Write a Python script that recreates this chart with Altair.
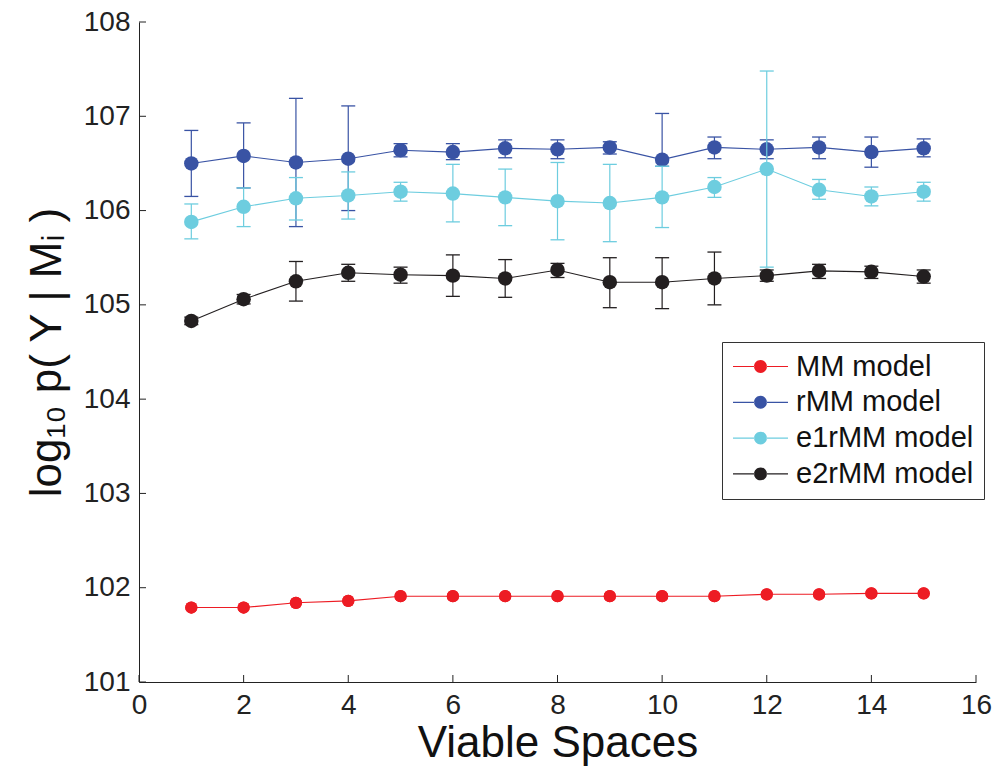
import altair as alt
import pandas as pd

# ---------------- data ----------------
x_vals = list(range(1, 16))
models = ["MM model", "rMM model", "e1rMM model", "e2rMM model"]
colors = ["#ed1c24", "#3953a4", "#6dcddf", "#231f20"]

mm_y = [101.79, 101.79, 101.84, 101.86, 101.91, 101.91, 101.91, 101.91,
        101.91, 101.91, 101.91, 101.93, 101.93, 101.94, 101.94]

rmm_y = [106.50, 106.58, 106.51, 106.55, 106.64, 106.62, 106.66, 106.65,
         106.67, 106.54, 106.67, 106.65, 106.67, 106.62, 106.66]
rmm_lo = [106.15, 106.24, 105.83, 106.00, 106.57, 106.54, 106.56, 106.55,
          106.60, 106.47, 106.55, 106.55, 106.55, 106.46, 106.57]
rmm_hi = [106.85, 106.93, 107.19, 107.11, 106.71, 106.71, 106.75, 106.75,
          106.73, 107.03, 106.78, 106.75, 106.78, 106.78, 106.76]

e1_y = [105.88, 106.04, 106.13, 106.16, 106.20, 106.18, 106.14, 106.10,
        106.08, 106.14, 106.25, 106.44, 106.22, 106.15, 106.20]
e1_lo = [105.70, 105.83, 105.90, 105.91, 106.10, 105.88, 105.84, 105.69,
         105.67, 105.82, 106.14, 105.40, 106.12, 106.05, 106.10]
e1_hi = [106.07, 106.24, 106.35, 106.41, 106.30, 106.49, 106.44, 106.51,
         106.49, 106.47, 106.35, 107.48, 106.33, 106.25, 106.30]

e2_y = [104.83, 105.06, 105.25, 105.34, 105.32, 105.31, 105.28, 105.37,
        105.24, 105.24, 105.28, 105.31, 105.36, 105.35, 105.30]
e2_lo = [104.79, 105.01, 105.04, 105.25, 105.23, 105.09, 105.08, 105.29,
         104.97, 104.96, 105.00, 105.25, 105.28, 105.28, 105.23]
e2_hi = [104.87, 105.11, 105.46, 105.43, 105.40, 105.53, 105.48, 105.44,
         105.50, 105.50, 105.56, 105.37, 105.43, 105.41, 105.37]

x_ticks = [0, 2, 4, 6, 8, 10, 12, 14, 16]
y_ticks = [101, 102, 103, 104, 105, 106, 107, 108]

# ---------------- build tables ----------------
series = {
    "MM model": (mm_y, None, None),
    "rMM model": (rmm_y, rmm_lo, rmm_hi),
    "e1rMM model": (e1_y, e1_lo, e1_hi),
    "e2rMM model": (e2_y, e2_lo, e2_hi),
}
rows = []
for m, (yv, lo, hi) in series.items():
    for i, x in enumerate(x_vals):
        rows.append({"x": x, "model": m, "y": yv[i],
                     "lo": lo[i] if lo else None, "hi": hi[i] if hi else None})
df = pd.DataFrame(rows)
xt = pd.DataFrame({"x": x_ticks})
yt = pd.DataFrame({"y": y_ticks})

FONT = "Liberation Sans"
W, H = 837, 660

xs = alt.Scale(domain=[0, 16], nice=False, zero=False)
ys = alt.Scale(domain=[101, 108], nice=False, zero=False)
cs = alt.Scale(domain=models, range=colors)

xaxis = alt.Axis(title="Viable Spaces", values=x_ticks, ticks=False, grid=False,
                 labelPadding=9, titlePadding=2, format="d", labelFlush=False)
yaxis = alt.Axis(title="log₁₀ p( Y | Mᵢ )", values=y_ticks, ticks=False, grid=False,
                 labelPadding=9, titlePadding=14, format="d", labelFlush=False)

def X(f="x"):
    return alt.X(f"{f}:Q", scale=xs, axis=xaxis)

def Y(f="y"):
    return alt.Y(f"{f}:Q", scale=ys, axis=yaxis)

legend_path = ("M-2,-0.045H-0.45V0.045H-2Z M0.45,-0.045H2V0.045H0.45Z "
               "M-0.47,0A0.47,0.47,0,1,0,0.47,0A0.47,0.47,0,1,0,-0.47,0Z")

legend = alt.Legend(
    title=None, orient="none", legendX=583, legendY=320,
    symbolType=legend_path, symbolSize=756, symbolStrokeWidth=0,
    labelFont=FONT, labelFontSize=29, labelColor="#111", labelLimit=0,
    labelOffset=21, symbolOffset=14, rowPadding=5.8, padding=10,
    strokeColor="#333", fillColor="white", cornerRadius=0)

col_nolegend = alt.Color("model:N", scale=cs, legend=None)

layers = []
for k, m in enumerate(models):
    base = alt.Chart(df).transform_filter(alt.datum.model == m)
    if k == 0:
        # first layer carries the legend (so its legend definition wins the merge)
        layers.append(base.mark_point(filled=True, opacity=1, size=150, strokeWidth=0).encode(
            x=X(), y=Y(), color=alt.Color("model:N", scale=cs, legend=legend)))
    layers.append(base.mark_line(strokeWidth=1.1).encode(x=X(), y=Y(), color=col_nolegend))
    if m != "MM model":
        layers.append(base.mark_rule(strokeWidth=1.2).encode(
            x=X(), y=Y("lo"), y2="hi:Q", color=col_nolegend))
        layers.append(base.mark_tick(orient="horizontal", size=14, thickness=1.3, opacity=1).encode(
            x=X(), y=Y("lo"), color=col_nolegend))
        layers.append(base.mark_tick(orient="horizontal", size=14, thickness=1.3, opacity=1).encode(
            x=X(), y=Y("hi"), color=col_nolegend))
    size = 150 if m == "MM model" else 210
    layers.append(base.mark_point(filled=True, opacity=1, size=size, strokeWidth=0).encode(
        x=X(), y=Y(), color=col_nolegend))

# inward tick marks
layers.append(alt.Chart(xt).mark_rule(color="#222", strokeWidth=1).encode(
    x=X(), y=alt.value(H), y2=alt.value(H - 7)))
layers.append(alt.Chart(yt).mark_rule(color="#222", strokeWidth=1).encode(
    y=Y(), x=alt.value(0), x2=alt.value(7)))

chart = alt.layer(*layers).properties(
    width=W, height=H,
    autosize=alt.AutoSizeParams(type="none"),
    padding={"left": 139, "top": 22, "right": 20, "bottom": 84},
    background="white",
).configure_view(stroke=None).configure_axis(
    labelFont=FONT, labelFontSize=28, labelColor="#222",
    titleFont=FONT, titleFontSize=44, titleFontWeight="normal", titleColor="#111",
    domainColor="#222", domainWidth=1,
)

chart.save("out.html", embed_options={"renderer": "svg", "actions": False})
